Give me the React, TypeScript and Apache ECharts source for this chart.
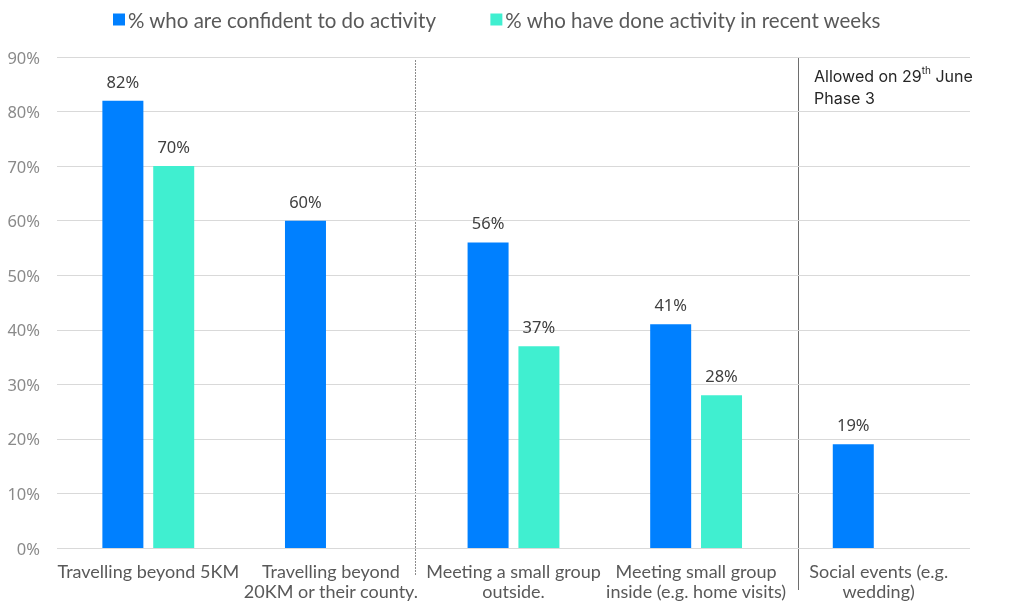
import React, { useEffect, useRef } from "react";
import * as echarts from "echarts";

const categories = [
  "Travelling beyond 5KM",
  "Travelling beyond\n20KM or their county.",
  "Meeting a small group\noutside.",
  "Meeting small group\ninside (e.g. home visits)",
  "Social events (e.g.\nwedding)",
];
const confident = [82, 60, 56, 41, 19];
const done = [70, null, 37, 28, null];
const seriesNames = ["% who are confident to do activity", "% who have done activity in recent weeks"];
const yTicks = { min: 0, max: 90, interval: 10 };

export default function App() {
  const ref = useRef<HTMLDivElement>(null);
  useEffect(() => {
    const chart = echarts.init(ref.current!, null, { renderer: "svg" });
    const font = "Lato, 'Noto Sans', sans-serif";
    const labelFont = "'Noto Sans', Lato, sans-serif";
    chart.setOption({
      animation: false,
      textStyle: { fontFamily: font },
      legend: {
        top: 4,
        left: 108,
        itemWidth: 12,
        itemHeight: 12,
        itemGap: 54,
        icon: "rect",
        textStyle: { fontSize: 20.5, color: "#595959", fontFamily: font, padding: [0, 0, 0, -2] },
      },
      grid: { left: 57, right: 54, top: 57, bottom: 57 },
      xAxis: {
        type: "category",
        data: categories,
        axisLine: { show: false },
        axisTick: { show: false },
        axisLabel: { fontSize: 18, color: "#595959", lineHeight: 20, margin: 13, interval: 0, fontFamily: font },
      },
      yAxis: {
        type: "value",
        min: yTicks.min,
        max: yTicks.max,
        interval: yTicks.interval,
        axisLabel: { formatter: "{value}%", fontSize: 16.5, color: "#8a8a8a", margin: 17, fontFamily: labelFont },
        splitLine: { lineStyle: { color: "#d9d9d9", width: 1 } },
        axisLine: { show: false },
        axisTick: { show: false },
      },
      series: [
        {
          name: seriesNames[0],
          type: "bar",
          data: confident,
          barWidth: 41,
          barGap: "24%",
          itemStyle: { color: "#0080ff" },
          label: { show: true, position: "top", distance: 11, formatter: "{c}%", fontSize: 16.5, color: "#404040", fontFamily: labelFont },
        },
        {
          name: seriesNames[1],
          type: "bar",
          data: done,
          barWidth: 41,
          barGap: "24%",
          itemStyle: { color: "#40efd0" },
          label: { show: true, position: "top", distance: 11, formatter: "{c}%", fontSize: 16.5, color: "#404040", fontFamily: labelFont },
        },
      ],
      graphic: [
        { type: "line", shape: { x1: 415.5, y1: 60, x2: 415.5, y2: 576 }, style: { stroke: "#8c8c8c", lineWidth: 1, lineDash: [2, 1] } },
        { type: "line", shape: { x1: 798.5, y1: 57, x2: 798.5, y2: 590 }, style: { stroke: "#6e6e6e", lineWidth: 1 } },
        {
          type: "text",
          x: 814,
          y: 65,
          style: {
            text: "{a|Allowed on 29}{s|th}{a| June}\n{a|Phase 3}",
            rich: {
              a: { fontSize: 16, fill: "#262626", fontFamily: "Inter, 'Noto Sans', sans-serif", lineHeight: 22 },
              s: { fontSize: 10, fill: "#262626", fontFamily: "Inter, 'Noto Sans', sans-serif", verticalAlign: "top", lineHeight: 22, padding: [0, 0, 6, 0] },
            },
          },
        },
      ],
    });
    return () => chart.dispose();
  }, []);
  return <div ref={ref} style={{ width: 1024, height: 605, position: "fixed", top: 0, left: 0 }} />;
}
